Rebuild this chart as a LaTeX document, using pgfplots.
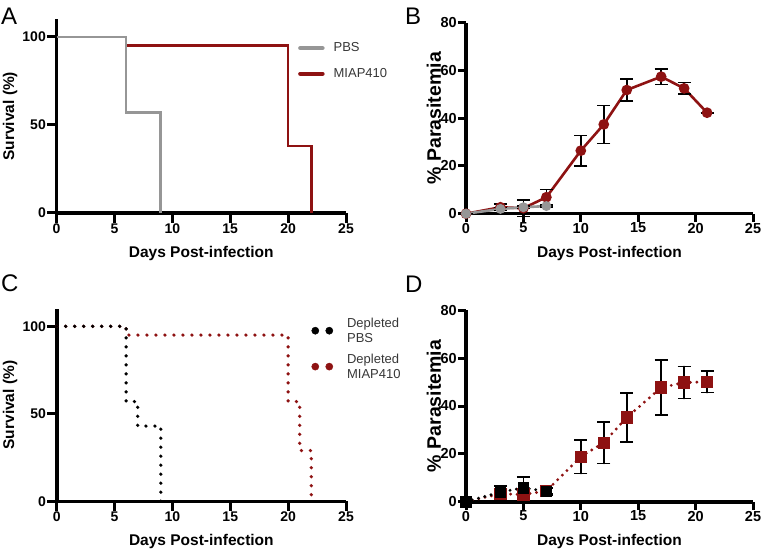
\documentclass[border=0pt]{standalone}
\usepackage{fontspec}
\setmainfont{Liberation Sans}
\usepackage{pgfplots}
\pgfplotsset{compat=1.18}
\definecolor{dred}{RGB}{142,18,18}
\definecolor{lgray}{RGB}{150,150,150}
\definecolor{ltext}{RGB}{55,55,55}

\pgfplotsset{
  panel/.style={
    scale only axis,
    clip=false,
    axis x line*=bottom, axis y line*=left,
    axis line style={line width=3.6pt, black, -},
    every outer x axis line/.append style={line width=3.6pt, black, -},
    every outer y axis line/.append style={line width=3.6pt, black, -},
    x axis line style={line width=3.6pt},
    y axis line style={line width=3.6pt},
    tick align=outside, major tick length=9.5pt,
    tick style={black, line width=3pt},
    major tick style={black, line width=3pt},
    xmin=0, xmax=25, xtick={0,5,...,25},
    ymin=0,
    xlabel={Days Post-infection},
    xlabel style={at={(axis description cs:0.5,-0.207)}, anchor=center, font=\bfseries\fontsize{15.5}{16}\selectfont},
    ticklabel style={font=\bfseries\fontsize{14}{14}\selectfont, inner sep=1pt},
    /pgf/number format/assume math mode=true,
  },
  survival/.style={panel, ymax=110, ytick={0,50,100},
    ylabel={Survival (\%)},
    ylabel style={at={(axis description cs:-0.1606,0.5)}, anchor=center, font=\bfseries\fontsize{15.5}{16}\selectfont},
  },
  parasit/.style={panel, ymax=80, ytick={0,20,...,80},
    ylabel={\% Parasitemia},
    ylabel style={at={(axis description cs:-0.1115,0.5)}, anchor=center, font=\bfseries\fontsize{19.5}{20}\selectfont},
    ticklabel style={font=\bfseries\fontsize{14.5}{14.5}\selectfont, inner sep=1pt},
    major tick length=8pt,
  },
}

\begin{document}
\begin{tikzpicture}
\useasboundingbox (0,0) rectangle (762pt,552pt);

% ---------- Panel A ----------
\begin{axis}[survival, at={(56.5pt,339pt)}, anchor=south west, width=289.5pt, height=193.6pt,
  legend cell align=left,
  legend style={draw=none, fill=none, at={(axis description cs:0.834,0.89)}, anchor=north west,
    font=\fontsize{13}{15}\selectfont, text=ltext, row sep=11pt, inner sep=0pt,
    /tikz/every odd column/.append style={column sep=7pt}},
  legend image code/.code={\draw[#1, line width=4.5pt, line cap=round] (0pt,0pt) -- (22pt,0pt);},
]
\addlegendimage{lgray}
\addlegendentry{PBS}
\addlegendimage{dred}
\addlegendentry{MIAP410}
\addplot[dred, line width=2.6pt, forget plot] coordinates {(0,100) (6,100) (6,95) (20,95) (20,38) (22,38) (22,0)};
\addplot[lgray, line width=2.6pt, forget plot] coordinates {(0,100) (6,100) (6,57) (9,57) (9,0)};
\end{axis}

% ---------- Panel B ----------
\begin{axis}[parasit, at={(466pt,338.3pt)}, anchor=south west, width=287pt, height=191pt]
\addplot[dred, line width=2.6pt, mark=*, mark size=4pt,
  error bars/.cd, y dir=both, y explicit,
  error bar style={black, line width=1.6pt},
  error mark options={rotate=90, black, mark size=6.5pt, line width=1.6pt}]
  table[x index=0, y index=1, y error index=2] {
0  0    0
3  2.7  1.3
5  2.3  3.4
7  6.9  3.3
10 26.4 6.3
12 37.4 8.0
14 51.8 4.5
17 57.4 3.3
19 52.5 2.4
21 42.3 0
};
\addplot[lgray, line width=2.6pt, mark=*, mark size=3.6pt,
  error bars/.cd, y dir=both, y explicit,
  error bar style={black, line width=1.6pt},
  error mark options={rotate=90, black, mark size=6.5pt, line width=1.6pt}]
  table[x index=0, y index=1, y error index=2] {
0 0   0
3 2.0 0.6
5 2.7 0.6
7 3.2 0.5
};
\end{axis}

% ---------- Panel C ----------
\begin{axis}[survival, at={(56.7pt,50.7pt)}, anchor=south west, width=289.3pt, height=192.5pt,
  legend cell align=left,
  legend style={draw=none, fill=none, at={(axis description cs:0.88,0.965)}, anchor=north west,
    font=\fontsize{13}{15}\selectfont, text=ltext, row sep=6pt, inner sep=0pt,
    cells={anchor=west, align=left},
    /tikz/every odd column/.append style={column sep=12pt}},
  legend image code/.code={\fill[#1] (0pt,0pt) circle (3.6pt); \fill[#1] (14pt,0pt) circle (3.6pt);},
]
\addlegendimage{black}
\addlegendentry{Depleted\\PBS}
\addlegendimage{dred}
\addlegendentry{Depleted\\MIAP410}
\addplot[dred, line width=3.6pt, line cap=round, dash pattern=on 0pt off 9pt, forget plot]
  coordinates {(0,100) (6,100) (6,95) (20,95) (20,57) (21,57) (21,29) (22,29) (22,0)};
\addplot[black, line width=3.6pt, line cap=round, dash pattern=on 0pt off 9pt, forget plot]
  coordinates {(0,100) (6,100) (6,57) (7,57) (7,43) (9,43) (9,0)};
\end{axis}

% ---------- Panel D ----------
\begin{axis}[parasit, at={(466pt,50.3pt)}, anchor=south west, width=287pt, height=191.4pt]
\addplot[dred, line width=3.2pt, line cap=round, dash pattern=on 0pt off 6.5pt,
  mark=square*, mark size=4.5pt, mark options={solid},
  error bars/.cd, y dir=both, y explicit,
  error bar style={black, line width=1.6pt, solid},
  error mark options={rotate=90, black, mark size=6.5pt, line width=1.6pt, solid}]
  table[x index=0, y index=1, y error index=2] {
0  0    0
3  3.3  1.2
5  3.0  1.5
7  4.5  1.2
10 18.8 7.0
12 24.7 8.7
14 35.2 10.2
17 47.7 11.5
19 49.8 6.7
21 50.1 4.5
};
\addplot[black, line width=3.2pt, line cap=round, dash pattern=on 0pt off 6.5pt,
  mark=square*, mark size=4.2pt, mark options={solid},
  error bars/.cd, y dir=both, y explicit,
  error bar style={black, line width=1.6pt, solid},
  error mark options={rotate=90, black, mark size=6.5pt, line width=1.6pt, solid}]
  table[x index=0, y index=1, y error index=2] {
0 0   0
3 4.0 2.5
5 5.8 4.5
7 4.3 1.5
};
\end{axis}

% ---------- Panel letters ----------
\node[anchor=base west, inner sep=0pt, font=\fontsize{24}{24}\selectfont] at (1pt,527pt) {A};
\node[anchor=base west, inner sep=0pt, font=\fontsize{24}{24}\selectfont] at (405pt,527pt) {B};
\node[anchor=base west, inner sep=0pt, font=\fontsize{24}{24}\selectfont] at (1pt,261pt) {C};
\node[anchor=base west, inner sep=0pt, font=\fontsize{24}{24}\selectfont] at (405pt,260pt) {D};
\end{tikzpicture}
\end{document}
